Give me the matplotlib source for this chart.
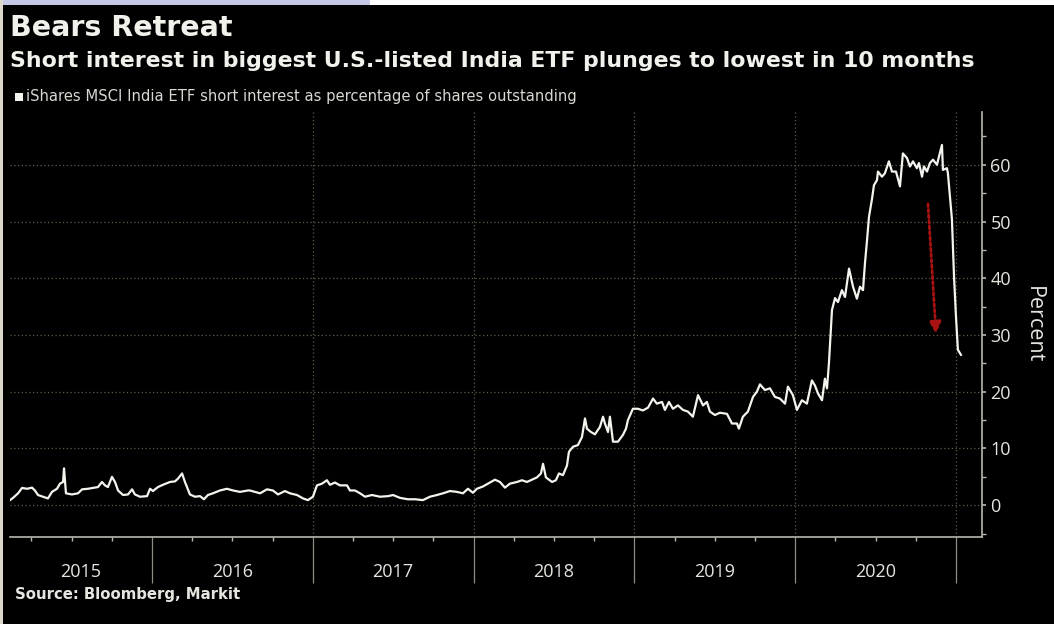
import matplotlib
matplotlib.use('Agg')
import matplotlib.pyplot as plt
from matplotlib.patches import Rectangle
import numpy as np

# iShares MSCI India ETF short interest, % of shares outstanding
t_year = [
    2015.117, 2015.136, 2015.167, 2015.192, 2015.223, 2015.254, 2015.272, 2015.291, 2015.322, 2015.353,
    2015.378, 2015.409, 2015.428, 2015.447, 2015.453, 2015.465, 2015.502, 2015.540, 2015.565, 2015.602,
    2015.633, 2015.664, 2015.689, 2015.708, 2015.726, 2015.751, 2015.770, 2015.789, 2015.820, 2015.851,
    2015.876, 2015.894, 2015.925, 2015.969, 2015.988,
    2016.006, 2016.037, 2016.068, 2016.112, 2016.143, 2016.162, 2016.187, 2016.205, 2016.236, 2016.267,
    2016.299, 2016.323, 2016.348, 2016.379, 2016.423, 2016.466, 2016.504, 2016.547, 2016.597, 2016.609,
    2016.672, 2016.715, 2016.752, 2016.784, 2016.827, 2016.858, 2016.902, 2016.939, 2016.970,
    2017.001, 2017.026, 2017.057, 2017.088, 2017.107, 2017.138, 2017.169, 2017.213, 2017.231, 2017.262,
    2017.294, 2017.325, 2017.368, 2017.418, 2017.468, 2017.499, 2017.542, 2017.592, 2017.636, 2017.685,
    2017.729, 2017.772, 2017.810, 2017.853, 2017.897, 2017.934, 2017.965, 2017.996,
    2018.021, 2018.058, 2018.102, 2018.133, 2018.164, 2018.195, 2018.226, 2018.270, 2018.301, 2018.332,
    2018.363, 2018.394, 2018.419, 2018.432, 2018.450, 2018.488, 2018.512, 2018.531, 2018.556, 2018.581,
    2018.593, 2018.618, 2018.649, 2018.674, 2018.693, 2018.705, 2018.730, 2018.755, 2018.786, 2018.805,
    2018.817, 2018.836, 2018.848, 2018.867, 2018.898, 2018.929, 2018.948, 2018.960, 2018.991,
    2019.022, 2019.053, 2019.085, 2019.116, 2019.140, 2019.172, 2019.190, 2019.215, 2019.240, 2019.271,
    2019.302, 2019.333, 2019.364, 2019.396, 2019.427, 2019.451, 2019.470, 2019.501, 2019.532, 2019.576,
    2019.607, 2019.638, 2019.650, 2019.675, 2019.706, 2019.738, 2019.762, 2019.781, 2019.812, 2019.843,
    2019.874, 2019.905, 2019.937, 2019.955, 2019.986,
    2020.011, 2020.042, 2020.073, 2020.104, 2020.123, 2020.142, 2020.167, 2020.185, 2020.198, 2020.210,
    2020.223, 2020.229, 2020.248, 2020.266, 2020.291, 2020.310, 2020.335, 2020.360, 2020.384, 2020.403,
    2020.422, 2020.434, 2020.447, 2020.459, 2020.478, 2020.490, 2020.509, 2020.515, 2020.540, 2020.558,
    2020.583, 2020.602, 2020.627, 2020.652, 2020.670, 2020.695, 2020.714, 2020.733, 2020.757, 2020.770,
    2020.789, 2020.801, 2020.820, 2020.838, 2020.857, 2020.882, 2020.894, 2020.913, 2020.919, 2020.944,
    2020.950, 2020.969, 2020.975, 2020.981, 2020.988, 2021.000, 2021.012, 2021.031,
]
short_pct = [
    0.9, 1.3, 2.1, 3.05, 2.9, 3.1, 2.6, 1.8, 1.5, 1.2,
    2.35, 2.9, 3.8, 4.1, 6.5, 2.1, 1.9, 2.1, 2.8, 2.9,
    3.05, 3.2, 4.1, 3.5, 3.2, 5.0, 4.1, 2.6, 1.8, 1.9,
    2.8, 1.9, 1.5, 1.6, 2.9,
    2.5, 3.2, 3.6, 4.1, 4.2, 4.7, 5.6, 4.1, 1.9, 1.5,
    1.6, 1.05, 1.8, 2.1, 2.6, 2.9, 2.6, 2.35, 2.6, 2.6,
    2.1, 2.8, 2.6, 1.9, 2.5, 2.1, 1.8, 1.2, 0.9,
    1.5, 3.5, 3.8, 4.4, 3.6, 4.0, 3.5, 3.5, 2.6, 2.6,
    2.1, 1.5, 1.8, 1.5, 1.6, 1.8, 1.3, 1.05, 1.05, 0.9,
    1.5, 1.8, 2.1, 2.5, 2.35, 2.1, 2.9, 2.2,
    2.9, 3.3, 4.0, 4.5, 4.1, 3.1, 3.8, 4.1, 4.4, 4.1,
    4.5, 4.9, 5.6, 7.3, 4.9, 4.1, 4.4, 5.6, 5.3, 7.0,
    9.4, 10.3, 10.6, 12.0, 15.3, 13.5, 12.9, 12.5, 13.8, 15.6,
    14.4, 12.9, 15.6, 11.2, 11.2, 12.4, 13.5, 15.0, 17.0,
    17.0, 16.7, 17.2, 18.8, 17.9, 18.2, 16.8, 18.2, 17.0, 17.6,
    16.8, 16.5, 15.6, 19.4, 17.6, 18.2, 16.5, 15.9, 16.3, 16.1,
    14.4, 14.4, 13.5, 15.6, 16.5, 19.1, 20.0, 21.3, 20.3, 20.6,
    19.1, 18.8, 17.9, 20.9, 19.4,
    16.8, 18.5, 17.9, 22.0, 21.1, 19.7, 18.5, 22.3, 20.6, 25.0,
    31.4, 34.4, 36.5, 35.8, 37.9, 36.7, 41.7, 38.5, 36.4, 38.5,
    37.9, 42.6, 46.7, 50.8, 54.0, 56.4, 57.3, 58.8, 57.9, 58.5,
    60.6, 58.8, 58.8, 56.2, 62.0, 61.2, 59.7, 60.6, 59.4, 60.3,
    57.9, 59.7, 58.8, 60.3, 60.9, 60.0, 61.4, 63.5, 59.1, 59.4,
    58.5, 52.3, 50.4, 45.7, 40.3, 33.3, 27.4, 26.5,
]

years = [2015, 2016, 2017, 2018, 2019, 2020]
x_range = (2015.117, 2021.162)
y_range = (-5.6, 69.3)
y_ticks = [0, 10, 20, 30, 40, 50, 60]

bg = '#000000'
txt = '#e6e6e0'
grid_c = '#5e5e48'
axis_c = '#b8b8b0'
tick_font = 'Open Sans'

fig = plt.figure(figsize=(10.54, 6.24), dpi=100, facecolor=bg)
ax = fig.add_axes([10/1054, 1 - 537/624, 972/1054, 425/624])
ax.set_facecolor(bg)

ax.plot(t_year, short_pct, color='#f4f4ee', lw=1.6, zorder=3)

ax.set_xlim(*x_range)
ax.set_ylim(*y_range)

for s in ['top', 'left']:
    ax.spines[s].set_visible(False)
for s in ['bottom', 'right']:
    ax.spines[s].set_color(axis_c)
    ax.spines[s].set_linewidth(1.2)

# x axis: long ticks at year boundaries, short ticks at quarters
ax.set_xticks([y + 1 for y in years])
ax.set_xticks([y + q for y in years for q in (0.25, 0.5, 0.75)], minor=True)
ax.set_xticklabels([])
ax.tick_params(axis='x', which='major', direction='out', length=33, width=0.9, color='#8c8c84')
ax.tick_params(axis='x', which='minor', direction='out', length=3, width=1.0, color=axis_c)

for y in years:
    left = max(y, x_range[0])
    ax.text((left + y + 1) / 2, -0.083, str(y), transform=ax.get_xaxis_transform(),
            ha='center', va='center', color=txt, fontsize=13, family=tick_font)

# y axis on the right
ax.yaxis.tick_right()
ax.set_yticks(y_ticks)
ax.set_yticks(np.arange(-5, 70, 10), minor=True)
ax.tick_params(axis='y', which='major', direction='out', length=3, width=1.2, color=axis_c,
               labelcolor=txt, labelsize=13, pad=3)
ax.tick_params(axis='y', which='minor', direction='out', length=3, width=1.0, color=axis_c)
for lab in ax.get_yticklabels():
    lab.set_family(tick_font)

ax.yaxis.grid(True, which='major', color=grid_c, linestyle=(0, (1, 2)), lw=0.9)
for y in years[2:] + [2021]:
    ax.axvline(y, color=grid_c, linestyle=(0, (1, 2)), lw=0.9, zorder=1)

fig.text(1033/1054, 1 - 325/624, 'Percent', rotation=270, ha='center', va='center',
         color=txt, fontsize=15.5, family=tick_font)

# red arrow annotation
ax.annotate('', xy=(2020.876, 30.2), xytext=(2020.826, 53.1),
            arrowprops=dict(arrowstyle='-|>,head_length=0.7,head_width=0.35', color='#a81212',
                            lw=2.0, linestyle=(0, (1, 1)), shrinkA=0, shrinkB=0))

# titles and notes
fig.text(10/1054, 1 - 36/624, 'Bears Retreat', color='#f2f2ec', fontsize=20.5,
         fontweight='bold', family='DejaVu Sans', va='baseline')
fig.text(10/1054, 1 - 67/624,
         'Short interest in biggest U.S.-listed India ETF plunges to lowest in 10 months',
         color='#f2f2ec', fontsize=15.8, fontweight='bold', family='DejaVu Sans', va='baseline')
fig.patches.append(Rectangle((15/1054, 1 - 101/624), 8/1054, 8/624, transform=fig.transFigure,
                             facecolor='#f4f4ee', edgecolor='none'))
fig.text(26/1054, 1 - 101/624,
         'iShares MSCI India ETF short interest as percentage of shares outstanding',
         color='#d8d8d2', fontsize=10.6, family='DejaVu Sans', va='baseline')
fig.text(15/1054, 1 - 599/624, 'Source: Bloomberg, Markit', color='#e6e6e0', fontsize=10.7,
         fontweight='bold', family='DejaVu Sans', va='baseline')

# screenshot frame edges
fig.patches.append(Rectangle((0, 1 - 5/624), 370/1054, 5/624, transform=fig.transFigure,
                             facecolor='#c6c9e6', edgecolor='none'))
fig.patches.append(Rectangle((370/1054, 1 - 5/624), 684/1054, 5/624, transform=fig.transFigure,
                             facecolor='#ffffff', edgecolor='none'))
fig.patches.append(Rectangle((0, 0), 3/1054, 1, transform=fig.transFigure,
                             facecolor='#ddd8cc', edgecolor='none'))

fig.savefig('out.png', dpi=100, facecolor=bg)
